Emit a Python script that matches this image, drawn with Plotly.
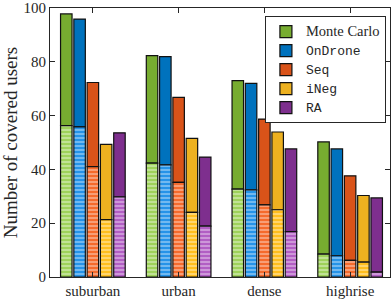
import plotly.graph_objects as go

categories = ["suburban", "urban", "dense", "highrise"]
series = ["Monte Carlo", "OnDrone", "Seq", "iNeg", "RA"]
totals = {
    "Monte Carlo": [97.8, 82.3, 73.0, 50.2],
    "OnDrone": [95.9, 81.9, 72.0, 47.6],
    "Seq": [72.3, 66.8, 58.7, 37.6],
    "iNeg": [49.3, 51.5, 53.9, 30.3],
    "RA": [53.6, 44.6, 47.6, 29.4],
}
lower = {
    "Monte Carlo": [56.3, 42.3, 32.7, 8.5],
    "OnDrone": [55.8, 41.7, 32.4, 7.9],
    "Seq": [41.0, 35.2, 26.8, 6.2],
    "iNeg": [21.3, 24.0, 25.0, 5.5],
    "RA": [29.8, 18.9, 16.9, 1.8],
}
yticks = [0, 20, 40, 60, 80, 100]

colors = ["#77AC30", "#0072BD", "#D95319", "#EDB120", "#7E2F8E"]
light = ["#9ED25A", "#2593E8", "#F56A2C", "#FFBE1E", "#B25EC4"]
mono = {"Monte Carlo": False, "OnDrone": True, "Seq": True, "iNeg": True, "RA": True}

pitch = 0.155
width = 0.134
fig = go.Figure()
for i, s in enumerate(series):
    off = -2.5 * pitch + i * pitch + (pitch - width) / 2
    upper = [t - l for t, l in zip(totals[s], lower[s])]
    if mono[s]:
        label = f'<span style="font-family:Liberation Mono;font-size:13px">{s}</span>'
    else:
        label = f'<span style="font-size:14.5px">{s}</span>'
    fig.add_trace(go.Bar(
        x=categories, y=upper, base=lower[s], width=width, offset=off,
        marker=dict(color=colors[i], line=dict(color="#111111", width=1.2)),
        name=label, showlegend=True,
    ))
    fig.add_trace(go.Bar(
        x=categories, y=lower[s], base=[0] * 4, width=width, offset=off,
        marker=dict(color=light[i], line=dict(color="#111111", width=1.2),
                    pattern=dict(shape="-", fgcolor="white", bgcolor=light[i],
                                 size=4, solidity=0.35, fillmode="overlay")),
        showlegend=False,
    ))

fig.update_layout(
    barmode="overlay",
    width=391, height=301,
    margin=dict(l=50, r=0, t=6, b=24),
    paper_bgcolor="white", plot_bgcolor="white",
    font=dict(family="Liberation Serif", size=15, color="#262626"),
    xaxis=dict(type="category", range=[-0.5, 3.465], showline=True, linecolor="#262626",
               linewidth=1, mirror="ticks", ticks="inside", ticklen=5, tickcolor="#262626",
               showgrid=False, tickfont=dict(size=15)),
    yaxis=dict(range=[0, 100], tickvals=yticks, showline=True, linecolor="#262626",
               linewidth=1, mirror="ticks", ticks="inside", ticklen=5, tickcolor="#262626",
               showgrid=False, zeroline=False, tickfont=dict(size=15),
               ticklabeloverflow="allow",
               title=dict(text="Number of covered users", font=dict(size=19), standoff=3)),
    legend=dict(x=0.988, y=0.97, xanchor="right", yanchor="top",
                bordercolor="#262626", borderwidth=1, bgcolor="white",
                font=dict(family="Liberation Serif", size=11), tracegroupgap=0,
                itemwidth=30),
)
fig.write_html("out.html", config={"displayModeBar": False},
               post_script="document.body.style.margin='0';")
